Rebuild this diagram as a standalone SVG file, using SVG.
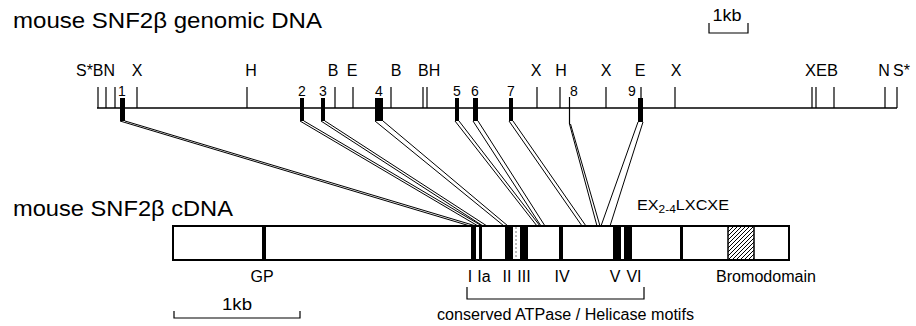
<svg xmlns="http://www.w3.org/2000/svg" width="916" height="326" viewBox="0 0 916 326">
  <defs>
    <style>
      text { font-family: "Liberation Sans", Arial, sans-serif; fill: #000; }
      .title { font-size: 22px; }
      .site { font-size: 16px; text-anchor: middle; }
      .exno { font-size: 14px; text-anchor: middle; }
      .lbl { font-size: 16px; text-anchor: middle; }
      .ln { stroke: #000; stroke-width: 1.5; fill: none; }
      .tick { stroke: #000; stroke-width: 1.2; fill: none; }
      .exon { fill: #000; }
      .conn { stroke: #000; stroke-width: 1; fill: none; }
      .box { fill: #fff; stroke: #000; stroke-width: 2; }
    </style>
    <pattern id="hatch" width="4" height="4" patternUnits="userSpaceOnUse">
      <path d="M-1,1 L1,-1 M0,4 L4,0 M3,5 L5,3" stroke="#000" stroke-width="1"/>
    </pattern>
  </defs>

  <rect width="916" height="326" fill="#fff"/>

  <!-- headings -->
  <text class="title" x="13" y="28" textLength="309" lengthAdjust="spacingAndGlyphs">mouse SNF2β genomic DNA</text>
  <text class="title" x="13" y="216" textLength="220" lengthAdjust="spacingAndGlyphs">mouse SNF2β cDNA</text>

  <!-- genomic scale bar -->
  <g id="scale-genomic">
    <text x="727" y="21" font-size="16" text-anchor="middle" textLength="29" lengthAdjust="spacingAndGlyphs">1kb</text>
    <path class="tick" d="M709,23 V33 H748 V23"/>
  </g>

  <!-- genomic map: backbone and restriction sites -->
  <g id="genomic-map">
    <line class="ln" x1="97" y1="108" x2="897" y2="108"/>
    <path class="tick" d="M98,87 V108 M106,87 V108 M115,87 V108 M137,87 V108 M247,87 V108 M335,87 V108 M353,87 V108 M391,87 V108 M423,87 V108 M427,87 V108 M537,87 V108 M560,87 V108 M606,87 V108 M641,87 V98 M675,87 V108 M812,87 V108 M816,87 V108 M834,87 V108 M885,87 V108 M897,87 V108"/>
    <text class="site" x="76" y="76" style="text-anchor:start" textLength="39" lengthAdjust="spacingAndGlyphs">S*BN</text>
    <text class="site" x="137" y="76">X</text>
    <text class="site" x="251" y="76">H</text>
    <text class="site" x="333" y="76">B</text>
    <text class="site" x="352" y="76">E</text>
    <text class="site" x="396" y="76">B</text>
    <text class="site" x="418" y="76" style="text-anchor:start">BH</text>
    <text class="site" x="536" y="76">X</text>
    <text class="site" x="561" y="76">H</text>
    <text class="site" x="606" y="76">X</text>
    <text class="site" x="640" y="76">E</text>
    <text class="site" x="676" y="76">X</text>
    <text class="site" x="805" y="76" style="text-anchor:start" textLength="33" lengthAdjust="spacingAndGlyphs">XEB</text>
    <text class="site" x="884" y="76">N</text>
    <text class="site" x="893" y="76" style="text-anchor:start">S*</text>
  </g>

  <!-- exons on the genomic map -->
  <g id="exon-1"><rect class="exon" x="120" y="98" width="5" height="23"/><text class="exno" x="122" y="96">1</text></g>
  <g id="exon-2"><rect class="exon" x="300" y="98" width="4" height="23"/><text class="exno" x="302" y="96">2</text></g>
  <g id="exon-3"><rect class="exon" x="321" y="98" width="4" height="23"/><text class="exno" x="323" y="96">3</text></g>
  <g id="exon-4"><rect class="exon" x="375" y="98" width="8" height="23"/><text class="exno" x="379" y="96">4</text></g>
  <g id="exon-5"><rect class="exon" x="455" y="98" width="4" height="23"/><text class="exno" x="457" y="96">5</text></g>
  <g id="exon-6"><rect class="exon" x="473" y="98" width="5" height="23"/><text class="exno" x="475" y="96">6</text></g>
  <g id="exon-7"><rect class="exon" x="509" y="98" width="4" height="23"/><text class="exno" x="511" y="96">7</text></g>
  <g id="exon-8"><line class="tick" x1="569.5" y1="97" x2="569.5" y2="124"/><text class="exno" x="574" y="96">8</text></g>
  <g id="exon-9"><rect class="exon" x="638" y="98" width="5" height="24"/><text class="exno" x="632" y="96">9</text></g>

  <!-- exon-to-cDNA connectors -->
  <g id="connectors">
    <path class="conn" d="M120,121 L470,226 M125,121 L476,226"/>
    <path class="conn" d="M300,121 L478,226 M304,121 L482,226"/>
    <path class="conn" d="M321,121 L483,226 M325,121 L487,226"/>
    <path class="conn" d="M375,121 L504,226 M383,121 L508,226"/>
    <path class="conn" d="M455,121 L537,226 M459,121 L540,226"/>
    <path class="conn" d="M473,121 L541,226 M478,121 L545,226"/>
    <path class="conn" d="M509,121 L582,226 M513,121 L586,226"/>
    <path class="conn" d="M569.5,124 L597,226 M570.5,124 L600,226"/>
    <path class="conn" d="M638,122 L601,226 M643,122 L610,226"/>
  </g>

  <!-- cDNA with motif bars -->
  <g id="cdna">
    <rect class="box" x="173" y="226" width="616" height="34"/>
    <rect x="728" y="226" width="26" height="34" fill="url(#hatch)" stroke="#000" stroke-width="1.5"/>
    <rect class="exon" x="262" y="226" width="4" height="34"/>
    <rect class="exon" x="471" y="226" width="5" height="34"/>
    <rect class="exon" x="479" y="226" width="3" height="34"/>
    <rect class="exon" x="505" y="226" width="8" height="34"/>
    <line x1="516" y1="227" x2="516" y2="259" stroke="#777" stroke-width="1" stroke-dasharray="2 2"/>
    <rect class="exon" x="520" y="226" width="8" height="34"/>
    <rect class="exon" x="559" y="226" width="4" height="34"/>
    <rect class="exon" x="613" y="226" width="8" height="34"/>
    <rect class="exon" x="624" y="226" width="8" height="34"/>
    <rect class="exon" x="680" y="226" width="3" height="34"/>
  </g>

  <!-- motif labels -->
  <g id="cdna-labels">
    <text x="637" y="210" font-size="15" textLength="92" lengthAdjust="spacingAndGlyphs">EX<tspan font-size="11" dy="3">2-4</tspan><tspan dy="-3">LXCXE</tspan></text>
    <text class="lbl" x="262" y="282">GP</text>
    <text class="lbl" x="470" y="282">I</text>
    <text class="lbl" x="484" y="282">Ia</text>
    <text class="lbl" x="507" y="282">II</text>
    <text class="lbl" x="524" y="282">III</text>
    <text class="lbl" x="562" y="282">IV</text>
    <text class="lbl" x="615" y="282">V</text>
    <text class="lbl" x="634" y="282">VI</text>
    <text class="lbl" x="766" y="282" textLength="100" lengthAdjust="spacingAndGlyphs">Bromodomain</text>
  </g>

  <!-- conserved motif bracket -->
  <g id="motif-bracket">
    <path class="tick" d="M467,287 V299 H644 V287"/>
    <text x="437" y="320" font-size="16" textLength="257" lengthAdjust="spacingAndGlyphs">conserved ATPase / Helicase motifs</text>
  </g>

  <!-- cDNA scale bar -->
  <g id="scale-cdna">
    <text x="237" y="310" font-size="17" text-anchor="middle" textLength="30" lengthAdjust="spacingAndGlyphs">1kb</text>
    <path class="tick" d="M174,311 V318 H300 V311"/>
  </g>
</svg>
